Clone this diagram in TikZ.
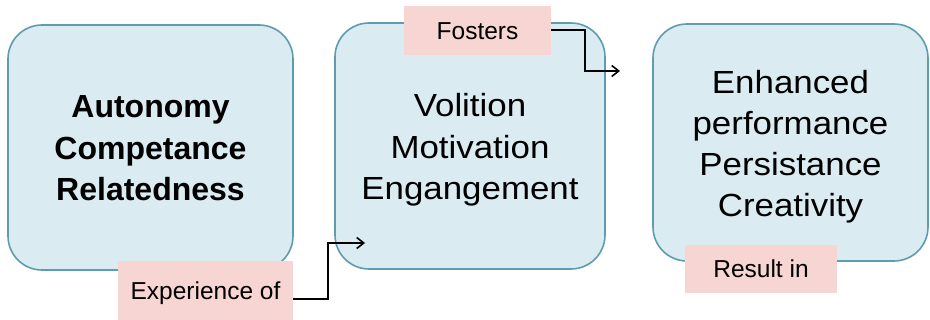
\documentclass[tikz,border=0pt]{standalone}
\usepackage{fontspec}
\setmainfont{Liberation Sans}
\newfontfamily\widesans[FakeStretch=1.09]{Liberation Sans}
\usetikzlibrary{arrows.meta}
\definecolor{boxfill}{HTML}{DAEBF1}
\definecolor{boxline}{HTML}{5E9CAE}
\definecolor{pinkfill}{HTML}{F7D5D3}
\begin{document}
\begin{tikzpicture}[x=1pt,y=-1pt,
  bigbox/.style={draw=boxline,line width=1.6pt,fill=boxfill,rounded corners=34pt,inner sep=0pt},
  boxtext/.style={align=center,inner sep=0pt,font=\fontsize{32}{41.5}\selectfont},
  tag/.style={fill=pinkfill,inner sep=0pt,font=\fontsize{24.5}{28}\selectfont,
    text height=17.5pt,text depth=0pt},
  link/.style={line width=1.6pt,-{Straight Barb[length=7pt,width=11pt,line width=1.6pt]}}]
\useasboundingbox (0,0) rectangle (930,320);
\fill[white] (0,0) rectangle (930,320);
\node[bigbox,minimum width=285pt,minimum height=245pt] (b1) at (150.5,147.5) {};
\node[bigbox,minimum width=270pt,minimum height=246pt] (b2) at (470,146) {};
\node[bigbox,minimum width=275pt,minimum height=237pt] (b3) at (790.5,142.5) {};
\node[boxtext] (t1) at ([yshift=-1pt]b1.center)
  {\bfseries Autonomy\\\bfseries Competance\\\bfseries Relatedness};
\node[boxtext,font=\fontsize{32}{41.5}\widesans] (t2) at ([yshift=-4pt]b2.center)
  {Volition\\Motivation\\Engangement};
\node[boxtext,font=\fontsize{32}{41}\widesans] (t3) at ([yshift=-4pt]b3.center)
  {Enhanced\\performance\\Persistance\\Creativity};
\node[tag,minimum width=175pt,minimum height=60pt] (exp) at (205.5,291) {Experience of};
\node[tag,minimum width=147pt,minimum height=49pt] (fos) at (477.5,31) {Fosters};
\node[tag,minimum width=152pt,minimum height=48pt] (res) at (761,269) {Result in};
\coordinate (e1) at (365,243);
\coordinate (f1) at (620,71);
\draw[link] ([yshift=-8pt]exp.east) -| (328,243) -- (e1);
\draw[link] ([yshift=1pt]fos.east) -| (585,71) -- (f1);
\end{tikzpicture}
\end{document}
